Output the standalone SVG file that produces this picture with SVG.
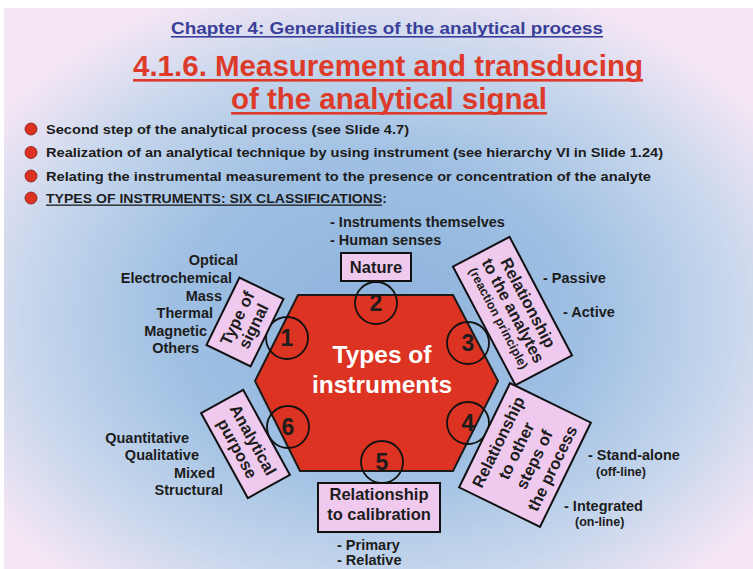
<svg xmlns="http://www.w3.org/2000/svg" width="753" height="569" viewBox="0 0 753 569">
<defs>
<radialGradient id="bg" cx="0.5" cy="0.55" r="0.62">
<stop offset="0" stop-color="#8db2dc"/>
<stop offset="0.45" stop-color="#9fc0e3"/>
<stop offset="0.75" stop-color="#c6d6ec"/>
<stop offset="1" stop-color="#f4e6f5"/>
</radialGradient>
</defs>
<style>
text{font-family:"Liberation Sans",Arial,sans-serif;font-weight:bold;fill:#1c1c1c}
.lbl{font-size:14.5px}
.sm{font-size:12.5px}
.bul{font-size:13.5px}
.box{fill:#efc9ee;stroke:#111;stroke-width:2}
.bt{font-size:16.5px;text-anchor:middle}
.num{fill:none;stroke:#111;stroke-width:1.8}
.nt{font-size:23px;text-anchor:middle}
.dot{fill:#dd3222;stroke:#7a1a10;stroke-width:0.8}
</style>
<rect x="0" y="0" width="753" height="569" fill="#ffffff"/>
<rect x="4" y="8" width="749" height="561" fill="url(#bg)"/>

<g id="titles">
<text x="387" y="34" text-anchor="middle" font-size="17" style="fill:#3a3f9a" textLength="432" lengthAdjust="spacingAndGlyphs">Chapter 4: Generalities of the analytical process</text>
<rect x="171" y="36" width="432" height="1.6" fill="#3a3f9a"/>
<text x="388" y="76" text-anchor="middle" font-size="30" style="fill:#dd3a2a" textLength="510" lengthAdjust="spacingAndGlyphs">4.1.6. Measurement and transducing</text>
<rect x="133" y="79" width="510" height="2.6" fill="#dd3a2a"/>
<text x="389" y="109" text-anchor="middle" font-size="30" style="fill:#dd3a2a" textLength="316" lengthAdjust="spacingAndGlyphs">of the analytical signal</text>
<rect x="231" y="112" width="316" height="2.6" fill="#dd3a2a"/>
</g>

<g id="bullets">
<circle class="dot" cx="31" cy="129" r="6"/>
<circle class="dot" cx="31" cy="152.5" r="6"/>
<circle class="dot" cx="31" cy="176" r="6"/>
<circle class="dot" cx="31" cy="198" r="6"/>
<text class="bul" x="46" y="133.5" textLength="363" lengthAdjust="spacingAndGlyphs">Second step of the analytical process (see Slide 4.7)</text>
<text class="bul" x="46" y="157" textLength="617" lengthAdjust="spacingAndGlyphs">Realization of an analytical technique by using instrument (see hierarchy VI in Slide 1.24)</text>
<text class="bul" x="46" y="180.5" textLength="605" lengthAdjust="spacingAndGlyphs">Relating the instrumental measurement to the presence or concentration of the analyte</text>
<text class="bul" x="46" y="202.5" textLength="341" lengthAdjust="spacingAndGlyphs">TYPES OF INSTRUMENTS: SIX CLASSIFICATIONS:</text>
<rect x="46" y="204.5" width="336" height="1.3" fill="#1c1c1c"/>
</g>

<g id="hexagon">
<polygon points="298,295 453,295 498,381 453,471 300,471 255,381" fill="#dc3322" stroke="#1a1a1a" stroke-width="2"/>
<text x="382" y="363" text-anchor="middle" font-size="24.5" style="fill:#ffffff">Types of</text>
<text x="382" y="393" text-anchor="middle" font-size="24.5" style="fill:#ffffff">instruments</text>
</g>

<g id="numbers">
<circle class="num" cx="287" cy="338" r="21"/><text class="nt" x="287" y="346">1</text>
<circle class="num" cx="376" cy="303" r="21"/><text class="nt" x="376" y="311">2</text>
<circle class="num" cx="468" cy="343" r="21"/><text class="nt" x="468" y="351">3</text>
<circle class="num" cx="468" cy="423" r="21"/><text class="nt" x="468" y="431">4</text>
<circle class="num" cx="382" cy="462" r="21"/><text class="nt" x="382" y="470">5</text>
<circle class="num" cx="288" cy="427" r="21"/><text class="nt" x="288" y="435">6</text>
</g>

<g id="node-signal" transform="translate(245,322) rotate(-64)">
<rect class="box" x="-37.5" y="-24.5" width="75" height="49"/>
<text class="bt" x="0" y="-3">Type of</text>
<text class="bt" x="0" y="15">signal</text>
</g>

<g id="node-nature">
<rect class="box" x="341" y="253" width="70" height="28"/>
<text class="bt" x="376" y="273">Nature</text>
</g>

<g id="node-analytes" transform="translate(512.5,311) rotate(62.2)">
<rect class="box" x="-67" y="-32" width="134" height="64"/>
<text class="bt" x="0" y="-12">Relationship</text>
<text class="bt" x="0" y="5">to the analytes</text>
<text class="bt" x="0" y="20" style="font-size:12.5px">(reaction principle)</text>
</g>

<g id="node-steps" transform="translate(525,455) rotate(-64)">
<rect class="box" x="-58" y="-45" width="116" height="90"/>
<text class="bt" x="0" y="-24">Relationship</text>
<text class="bt" x="0" y="-4">to other</text>
<text class="bt" x="0" y="16">steps of</text>
<text class="bt" x="0" y="36">the process</text>
</g>

<g id="node-calibration">
<rect class="box" x="318" y="483" width="122" height="49"/>
<text class="bt" x="379" y="500">Relationship</text>
<text class="bt" x="379" y="520">to calibration</text>
</g>

<g id="node-purpose" transform="translate(245.5,444) rotate(61.2)">
<rect class="box" x="-48.5" y="-24" width="97" height="48"/>
<text class="bt" x="0" y="-3">Analytical</text>
<text class="bt" x="0" y="15">purpose</text>
</g>

<g id="labels">
<g class="lbl" text-anchor="end">
<text x="238" y="265">Optical</text>
<text x="232" y="283">Electrochemical</text>
<text x="222" y="301">Mass</text>
<text x="213" y="318">Thermal</text>
<text x="207" y="336">Magnetic</text>
<text x="199" y="353">Others</text>
<text x="189" y="443">Quantitative</text>
<text x="199" y="460">Qualitative</text>
<text x="215" y="478">Mixed</text>
<text x="223" y="495">Structural</text>
</g>
<text class="lbl" x="330" y="227">- Instruments themselves</text>
<text class="lbl" x="330" y="245">- Human senses</text>
<text class="lbl" x="543" y="283">- Passive</text>
<text class="lbl" x="563" y="317">- Active</text>
<text class="lbl" x="588" y="460">- Stand-alone</text>
<text class="sm" x="596" y="476">(off-line)</text>
<text class="lbl" x="564" y="511">- Integrated</text>
<text class="sm" x="575" y="526">(on-line)</text>
<text class="lbl" x="337" y="550">- Primary</text>
<text class="lbl" x="337" y="565">- Relative</text>
</g>
<g id="connectors"/>
</svg>
